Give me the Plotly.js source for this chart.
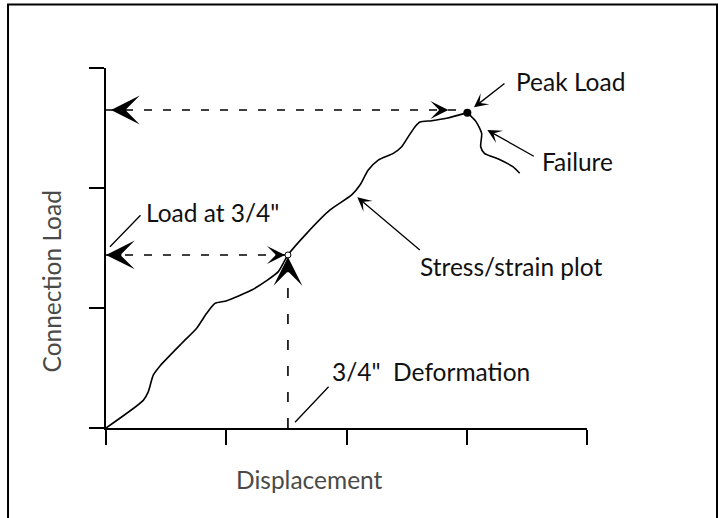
<!DOCTYPE html>
<html>
<head>
<meta charset="utf-8">
<script src="https://cdn.plot.ly/plotly-3.0.1.min.js"></script>
<style>
  html, body { margin: 0; padding: 0; background: #ffffff; }
  #chart { width: 718px; height: 518px; }
</style>
</head>
<body>
<div id="chart"></div>
<script>
// ---- Data (displacement in axis units, load in axis units) ----
const dispMain = [0, 0.31, 0.352, 0.393, 0.449, 0.63, 0.754, 0.837, 0.906, 1.004, 1.212, 1.336, 1.433, 1.513, 1.669, 1.863, 2.043, 2.112, 2.181, 2.264, 2.389, 2.459, 2.514, 2.57, 2.611, 2.709, 2.833, 3.005];
const loadMain = [0, 0.23, 0.303, 0.44, 0.517, 0.706, 0.831, 0.956, 1.039, 1.061, 1.15, 1.228, 1.303, 1.442, 1.622, 1.817, 1.942, 2.025, 2.15, 2.233, 2.289, 2.344, 2.428, 2.511, 2.55, 2.561, 2.581, 2.628];
const dispFail = [3.005, 3.077, 3.124, 3.116, 3.147, 3.268, 3.383, 3.44];
const loadFail = [2.628, 2.553, 2.456, 2.344, 2.289, 2.239, 2.178, 2.123];
const deformIndex = 13;           // point on the curve at 3/4" deformation
const peakGuideLoad = 2.65;       // level of the peak-load dashed guide
const xTicks = [0, 1, 2, 3, 4];
const yTicks = [0, 1, 2, 3];
const labels = {
  peak: 'Peak Load',
  failure: 'Failure',
  stress: 'Stress/strain plot',
  load34: 'Load at 3/4"',
  deform: '3/4"\u00A0 Deformation',
  xTitle: 'Displacement',
  yTitle: 'Connection Load'
};

// ---- Derived points ----
const defX = dispMain[deformIndex], defY = loadMain[deformIndex];
const peakX = dispMain[dispMain.length - 1], peakY = loadMain[loadMain.length - 1];

const annFont = { family: 'Lato, "Open Sans", sans-serif', size: 24.5, color: '#111111' };
const titleFont = { family: 'Lato, "Open Sans", sans-serif', size: 24.5, color: '#4a4a48' };

const traces = [
  // dashed guides
  { x: [0, peakX], y: [peakGuideLoad, peakGuideLoad], mode: 'lines', line: { color: '#000', width: 1.6, dash: '8px,11px' }, hoverinfo: 'skip', cliponaxis: false },
  { x: [0, defX], y: [defY, defY], mode: 'lines', line: { color: '#000', width: 1.6, dash: '8px,11px' }, hoverinfo: 'skip', cliponaxis: false },
  { x: [defX, defX], y: [0, defY], mode: 'lines', line: { color: '#000', width: 1.6, dash: '10px,16px' }, hoverinfo: 'skip', cliponaxis: false },
  // curve
  { x: dispMain, y: loadMain, mode: 'lines', line: { color: '#000', width: 1.6, shape: 'spline', smoothing: 0.6 }, hoverinfo: 'skip', cliponaxis: false },
  { x: dispFail, y: loadFail, mode: 'lines', line: { color: '#000', width: 1.6, shape: 'spline', smoothing: 0.6 }, hoverinfo: 'skip', cliponaxis: false },
  // markers
  { x: [defX], y: [defY], mode: 'markers', marker: { size: 6, color: '#fff', line: { color: '#000', width: 1 } }, hoverinfo: 'skip', cliponaxis: false },
  { x: [peakX], y: [peakY], mode: 'markers', marker: { size: 8, color: '#000' }, hoverinfo: 'skip', cliponaxis: false }
];

function head(x, y, ax, ay, size, standoff) {
  return { x: x, y: y, xref: 'x', yref: 'y', text: '', showarrow: true, arrowhead: 3,
           arrowsize: size, arrowwidth: 1.5, arrowcolor: '#000', ax: ax, ay: ay, standoff: standoff || 0 };
}
function pointer(x, y, ax, ay, hd) {
  return { x: x, y: y, xref: 'x', yref: 'y', text: '', showarrow: true, arrowhead: hd,
           arrowsize: 1.8, arrowwidth: 1.3, arrowcolor: '#000', ax: ax, ay: ay };
}
function label(x, y, text) {
  return { x: x, y: y, xref: 'x', yref: 'y', text: text, showarrow: false, xanchor: 'left', yanchor: 'middle', font: annFont };
}

const annotations = [
  // dashed arrow heads
  head(0, peakGuideLoad, 20, 0, 3.2, 5),
  head(peakX, peakGuideLoad, -29, 0, 2, 19),
  head(0, defY, 15, 0, 3.2, 0),
  head(defX, defY, -13, 0, 2, 3),
  head(defX, defY, 0, 17, 3.2, 2),
  // pointer arrows
  pointer(3.060, 2.672, 32, -25, 3),
  pointer(3.171, 2.483, 48, 27, 3),
  pointer(2.090, 1.923, 64, 54, 3),
  pointer(0.033, 1.511, 32, -33, 0),
  pointer(1.572, 0.048, 35, -37, 0),
  // labels
  label(3.39, 2.885, labels.peak),
  label(3.61, 2.22, labels.failure),
  label(2.595, 1.345, labels.stress),
  label(0.315, 1.80, labels.load34),
  label(1.865, 0.47, labels.deform),
  // axis titles
  { x: 0.424, y: -0.142, xref: 'paper', yref: 'paper', text: labels.xTitle, showarrow: false, xanchor: 'center', yanchor: 'middle', font: titleFont },
  { x: -0.113, y: 0.406, xref: 'paper', yref: 'paper', text: labels.yTitle, showarrow: false, textangle: -90, xanchor: 'center', yanchor: 'middle', font: titleFont }
];

const axisCommon = {
  showline: true, linecolor: '#000', linewidth: 2, mirror: false,
  ticks: 'outside', ticklen: 15, tickwidth: 2, tickcolor: '#000',
  showticklabels: false, showgrid: false, zeroline: false, fixedrange: true
};

const layout = {
  width: 718, height: 518,
  margin: { l: 106, r: 131, t: 68, b: 90, pad: 0 },
  paper_bgcolor: '#fff', plot_bgcolor: '#fff',
  showlegend: false,
  xaxis: Object.assign({}, axisCommon, { range: [0, 4], tickmode: 'array', tickvals: xTicks }),
  yaxis: Object.assign({}, axisCommon, { range: [0, 3], tickmode: 'array', tickvals: yTicks }),
  annotations: annotations,
  shapes: [
    { type: 'rect', xref: 'paper', yref: 'paper', x0: -0.2037, x1: 1.2703, y0: -0.32, y1: 1.1764,
      line: { color: '#000', width: 2 }, fillcolor: 'rgba(0,0,0,0)', layer: 'below' }
  ]
};

Plotly.newPlot('chart', traces, layout, { displayModeBar: false, staticPlot: true });
</script>
</body>
</html>
